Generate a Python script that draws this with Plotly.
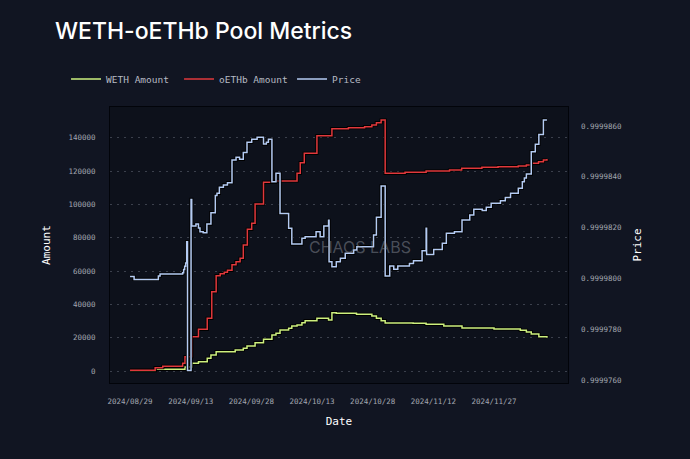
import plotly.graph_objects as go

# ---------------- data ----------------
price_dates = [
    "2024-08-29 00:00", "2024-08-30 00:00", "2024-09-05 00:00", "2024-09-05 10:00",
    "2024-09-11 00:00", "2024-09-11 06:00", "2024-09-11 12:00", "2024-09-11 18:00",
    "2024-09-12 00:00", "2024-09-12 05:00", "2024-09-13 02:00", "2024-09-13 06:00",
    "2024-09-14 07:00", "2024-09-14 22:00", "2024-09-15 07:00", "2024-09-16 02:00",
    "2024-09-17 00:00", "2024-09-18 00:00", "2024-09-19 02:00", "2024-09-19 12:00",
    "2024-09-20 02:00", "2024-09-21 02:00", "2024-09-22 02:00", "2024-09-23 05:00",
    "2024-09-24 05:00", "2024-09-25 02:00", "2024-09-26 00:00", "2024-09-26 22:00",
    "2024-09-28 02:00", "2024-09-29 10:00", "2024-10-01 00:00", "2024-10-01 17:00",
    "2024-10-02 05:00", "2024-10-03 02:00", "2024-10-04 02:00", "2024-10-05 02:00",
    "2024-10-07 05:00", "2024-10-08 00:00", "2024-10-10 12:00", "2024-10-11 07:00",
    "2024-10-14 00:00", "2024-10-15 00:00", "2024-10-15 22:00", "2024-10-17 02:00",
    "2024-10-17 05:00", "2024-10-17 22:00", "2024-10-19 00:00", "2024-10-20 00:00",
    "2024-10-21 05:00", "2024-10-23 07:00", "2024-10-24 02:00", "2024-10-28 05:00",
    "2024-10-28 22:00", "2024-10-30 02:00", "2024-10-31 02:00", "2024-11-01 05:00",
    "2024-11-02 05:00", "2024-11-03 05:00", "2024-11-06 02:00", "2024-11-07 02:00",
    "2024-11-09 05:00", "2024-11-10 05:00", "2024-11-10 08:00", "2024-11-12 02:00",
    "2024-11-14 05:00", "2024-11-15 05:00", "2024-11-17 05:00", "2024-11-19 02:00",
    "2024-11-21 00:00", "2024-11-22 00:00", "2024-11-24 02:00", "2024-11-25 02:00",
    "2024-11-26 07:00", "2024-11-28 14:00", "2024-11-29 19:00", "2024-12-01 02:00",
    "2024-12-03 00:00", "2024-12-04 00:00", "2024-12-04 12:00", "2024-12-05 00:00",
    "2024-12-06 05:00", "2024-12-07 05:00", "2024-12-08 02:00", "2024-12-09 05:00",
    "2024-12-10 02:00",
]
price_values = [
    0.99998007, 0.99997996, 0.99998009, 0.99998017,
    0.99998022, 0.99998035, 0.99998048, 0.99998061,
    0.99998144, 0.99997637, 0.99998311, 0.99998206,
    0.99998214, 0.99998198, 0.99998184, 0.99998180,
    0.99998214, 0.99998259, 0.99998326, 0.99998335,
    0.99998359, 0.99998368, 0.99998377, 0.99998466,
    0.99998477, 0.99998469, 0.99998496, 0.99998536,
    0.99998548, 0.99998556, 0.99998529, 0.99998536,
    0.99998548, 0.99998381, 0.99998414, 0.99998256,
    0.99998197, 0.99998135, 0.99998158, 0.99998164,
    0.99998184, 0.99998164, 0.99998206, 0.99998229,
    0.99998066, 0.99998046, 0.99998066, 0.99998079,
    0.99998099, 0.99998112, 0.99998125, 0.99998171,
    0.99998241, 0.99998364, 0.99998009, 0.99998049,
    0.99998036, 0.99998049, 0.99998059, 0.99998069,
    0.99998109, 0.99998197, 0.99998094, 0.99998114,
    0.99998138, 0.99998178, 0.99998184, 0.99998230,
    0.99998250, 0.99998272, 0.99998267, 0.99998280,
    0.99998296, 0.99998306, 0.99998319, 0.99998335,
    0.99998355, 0.99998381, 0.99998395, 0.99998411,
    0.99998499, 0.99998528, 0.99998567, 0.99998624,
    0.99998624,
]

oethb_dates = [
    "2024-08-29 00:00", "2024-09-04 05:00", "2024-09-06 02:00", "2024-09-11 00:00",
    "2024-09-11 14:00", "2024-09-13 07:00", "2024-09-14 22:00", "2024-09-17 02:00",
    "2024-09-18 05:00", "2024-09-19 07:00", "2024-09-20 07:00", "2024-09-21 07:00",
    "2024-09-22 02:00", "2024-09-23 05:00", "2024-09-24 05:00", "2024-09-25 05:00",
    "2024-09-26 00:00", "2024-09-27 00:00", "2024-09-28 02:00", "2024-09-28 22:00",
    "2024-10-01 00:00", "2024-10-03 22:00", "2024-10-09 07:00", "2024-10-10 02:00",
    "2024-10-11 02:00", "2024-10-14 05:00", "2024-10-17 22:00", "2024-10-22 00:00",
    "2024-10-26 00:00", "2024-10-27 19:00", "2024-10-28 22:00", "2024-10-30 02:00",
    "2024-10-31 02:00", "2024-11-05 00:00", "2024-11-10 05:00", "2024-11-16 00:00",
    "2024-11-19 00:00", "2024-11-24 00:00", "2024-11-28 00:00", "2024-12-03 00:00",
    "2024-12-05 00:00", "2024-12-06 05:00", "2024-12-08 00:00", "2024-12-09 05:00",
    "2024-12-10 02:00",
]
oethb_values = [
    500, 2000, 2800, 4600,
    8600, 20600, 25000, 31600,
    47600, 57200, 58400, 59200,
    60400, 63800, 65600, 67600,
    75600, 85000, 88600, 100200,
    113200, 114000, 118600, 125000,
    130600, 141200, 145400, 146000,
    146600, 147600, 149000, 150600,
    118600, 119200, 120000, 120600,
    121600, 122200, 122600, 123000,
    123600, 124600, 125600, 126600,
    127200,
]

weth_dates = [
    "2024-08-29 00:00", "2024-09-04 05:00", "2024-09-11 14:00", "2024-09-13 07:00",
    "2024-09-14 22:00", "2024-09-17 02:00", "2024-09-18 00:00", "2024-09-19 07:00",
    "2024-09-24 00:00", "2024-09-26 00:00", "2024-09-26 22:00", "2024-09-28 22:00",
    "2024-10-01 00:00", "2024-10-03 02:00", "2024-10-04 02:00", "2024-10-05 02:00",
    "2024-10-07 05:00", "2024-10-08 00:00", "2024-10-09 07:00", "2024-10-10 12:00",
    "2024-10-11 07:00", "2024-10-14 05:00", "2024-10-17 02:00", "2024-10-17 22:00",
    "2024-10-19 00:00", "2024-10-24 00:00", "2024-10-27 19:00", "2024-10-28 22:00",
    "2024-10-30 02:00", "2024-10-31 02:00", "2024-11-07 00:00", "2024-11-10 05:00",
    "2024-11-14 14:00", "2024-11-19 02:00", "2024-11-27 00:00", "2024-12-03 12:00",
    "2024-12-05 00:00", "2024-12-06 05:00", "2024-12-08 02:00", "2024-12-10 02:00",
]
weth_values = [
    200, 1000, 2400, 4600,
    5600, 7600, 9600, 11600,
    12600, 13600, 15000, 17000,
    19000, 21600, 22600, 24600,
    25600, 27000, 27600, 29000,
    30200, 31600, 30600, 35000,
    34600, 34000, 33000, 31600,
    30200, 28800, 28600, 28000,
    27000, 25800, 25200, 24400,
    23400, 22200, 20600, 20000,
]

x_tick_dates = ["2024-08-29", "2024-09-13", "2024-09-28", "2024-10-13",
                "2024-10-28", "2024-11-12", "2024-11-27"]
amount_ticks = [0, 20000, 40000, 60000, 80000, 100000, 120000, 140000]
price_ticks = [0.999976, 0.999978, 0.999980, 0.999982, 0.999984, 0.999986]

# ---------------- style ----------------
PAPER = "#111522"
PLOT = "#0d111b"
MONO = "DejaVu Sans Mono"
GREEN = "#cdf07f"
RED = "#e0383c"
BLUE = "#b4cbf3"

fig = go.Figure()

def add_series(x, y, color, name, axis):
    # dark outline underneath
    fig.add_trace(go.Scatter(x=x, y=y, mode="lines", line=dict(color="#000000", width=3.2, shape="hv"),
                             yaxis=axis, showlegend=False, hoverinfo="skip"))
    fig.add_trace(go.Scatter(x=x, y=y, mode="lines", name=name,
                             line=dict(color=color, width=1.5, shape="hv"), yaxis=axis))

add_series(weth_dates, weth_values, GREEN, "WETH Amount", "y")
add_series(oethb_dates, oethb_values, RED, "oETHb Amount", "y")
add_series(price_dates, price_values, BLUE, "Price", "y2")

fig.update_layout(
    width=690, height=459,
    paper_bgcolor=PAPER, plot_bgcolor=PLOT,
    margin=dict(l=110, r=122, t=107, b=76, autoexpand=False),
    title=dict(text="WETH-oETHb Pool Metrics", x=55 / 690, xanchor="left", xref="container",
               y=1 - 31 / 459, yanchor="middle", yref="container",
               font=dict(family="Inter", size=23, color="#ffffff", weight=500)),
    legend=dict(orientation="h", x=-0.096, xanchor="left", y=1 + 28 / 276, yanchor="middle",
                font=dict(family=MONO, size=9.5, color="#b7bac2"),
                bgcolor="rgba(0,0,0,0)", entrywidth=68, entrywidthmode="pixels"),
    showlegend=True,
    xaxis=dict(
        type="date",
        range=["2024-08-24 01:00", "2024-12-15 07:00"],
        tickvals=x_tick_dates, tickformat="%Y/%m/%d",
        tickfont=dict(family=MONO, size=7.5, color="#a3a7b0"),
        ticklabelstandoff=11,
        showgrid=False, zeroline=False,
        showline=True, mirror=True, linecolor="#02040a", linewidth=1,
        title=dict(text="Date", font=dict(family=MONO, size=11, color="#ffffff"), standoff=12),
    ),
    yaxis=dict(
        range=[-7200, 158400],
        tickvals=amount_ticks, tickformat="d",
        tickfont=dict(family=MONO, size=7.5, color="#a3a7b0"),
        ticklabelstandoff=12,
        showgrid=True, gridcolor="#3b404c", gridwidth=1, griddash="2px,5px",
        zeroline=False,
        showline=True, mirror=True, linecolor="#02040a", linewidth=1,
        title=dict(text="Amount", font=dict(family=MONO, size=11, color="#ffffff"), standoff=15),
    ),
    yaxis2=dict(
        overlaying="y", side="right",
        range=[0.99997588, 0.99998675],
        tickvals=price_ticks, tickformat=".7f",
        tickfont=dict(family=MONO, size=7.5, color="#a3a7b0"),
        ticklabelstandoff=12,
        showgrid=False, zeroline=False,
        title=dict(text="Price", font=dict(family=MONO, size=11, color="#ffffff"), standoff=12),
    ),
    annotations=[
        dict(text="CHAOS LABS", x=(360 - 110) / 458, y=(383 - 246.7) / 276,
             xref="x domain", yref="y domain",
             showarrow=False, font=dict(family="Inter", size=16, color="rgba(150,155,165,0.45)")),
    ],
)

fig.write_html("out.html", config={"displayModeBar": False},
               post_script="document.body.style.margin='0';document.body.style.background='#111522';")
